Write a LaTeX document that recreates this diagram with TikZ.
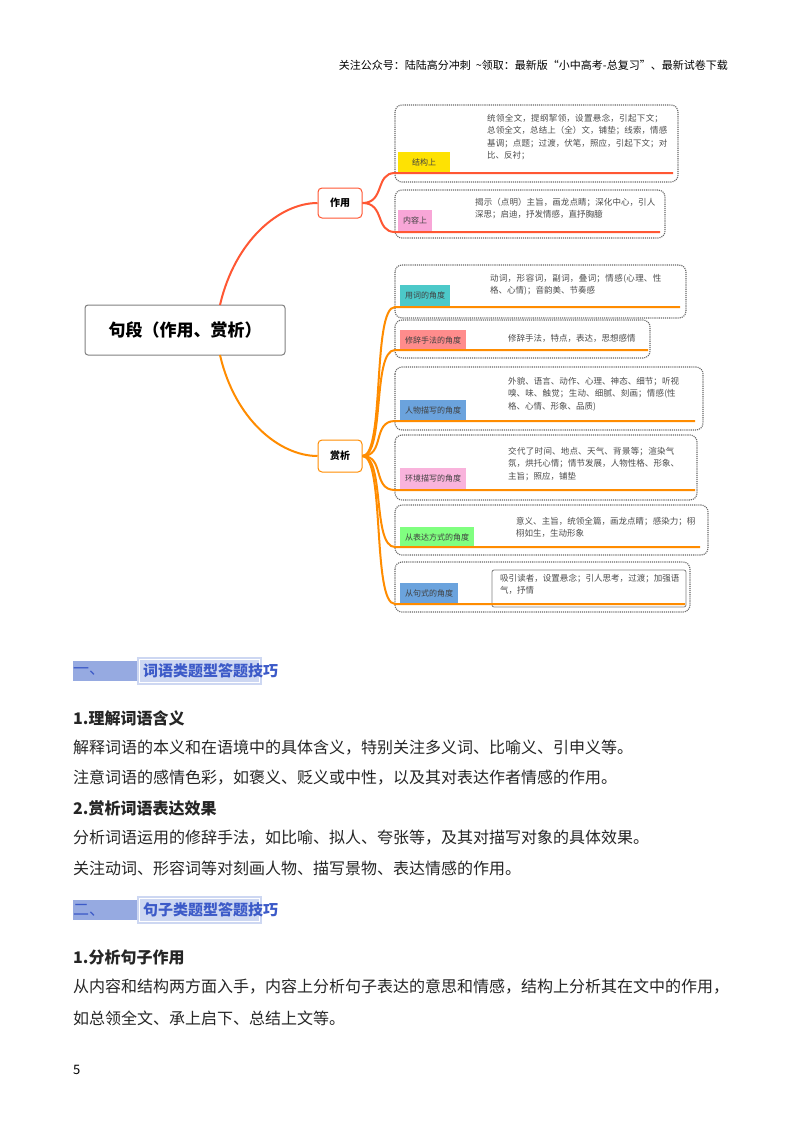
\documentclass[tikz,border=0pt]{standalone}
\usepackage{fontspec}
\setmainfont{Noto Sans CJK SC}
\XeTeXlinebreaklocale "zh"
\XeTeXlinebreakskip=0pt plus 1pt
\definecolor{hfill}{RGB}{150,170,225}
\definecolor{bfill}{RGB}{205,215,242}
\definecolor{htext}{RGB}{60,90,200}
\begin{document}
\begin{tikzpicture}[x=1pt,y=-1pt,
  fs/.style={font=\fontsize{#1}{#1}\selectfont},
  dbox/.style={draw=gray!80!black,densely dotted,line width=1.1pt,rounded corners=7pt},
  lab/.style={anchor=north west,inner xsep=5pt,inner ysep=2pt,fs=8,text=black!75,minimum height=21pt},
  desc/.style={anchor=north west,inner sep=0pt,font=\fontsize{8.5}{12.5}\selectfont,text=black!70,align=left,text width=#1},
  red/.style={draw=red!65!orange!80,line width=2pt},
  org/.style={draw=orange!90!yellow,line width=2pt},
  body/.style={anchor=west,inner sep=0pt,fs=16,text=black!85},
  head/.style={anchor=west,inner sep=0pt,font=\bfseries\fontsize{16}{16}\selectfont,text=black!85}]
\useasboundingbox (0,0) rectangle (800,1132);
\fill[white] (0,0) rectangle (800,1132);
\node[anchor=east,inner sep=0pt,fs=11] (hdr) at (728,65) {关注公众号：陆陆高分冲刺\ \ \textasciitilde 领取：最新版“小中高考-总复习”、最新试卷下载};
% central
\node[draw=gray,line width=1pt,rounded corners=3pt,minimum width=200pt,minimum height=50pt,font=\bfseries\fontsize{17}{17}\selectfont] (c) at (185,330) {句段（作用、赏析）};
\node[draw=red!65!orange!80,line width=1pt,rounded corners=4pt,minimum width=44pt,minimum height=30pt,font=\bfseries\fontsize{10}{10}\selectfont] (zy) at (340,203) {作用};
\node[draw=orange!90!yellow,line width=1pt,rounded corners=4pt,minimum width=44pt,minimum height=32pt,font=\bfseries\fontsize{10}{10}\selectfont] (sx) at (340,456) {赏析};
\draw[red] (220,305) .. controls (235,240) and (280,203) .. (zy.west);
\draw[org] (220,355) .. controls (235,420) and (280,456) .. (sx.west);
% 作用 items
\draw[dbox] (395,105) rectangle (678,182);
\node[lab,fill=yellow!85!orange,minimum width=52pt] (l1) at (398,152) {结构上};
\node[desc=182pt] (d1) at (487,114) {统领全文，提纲挈领，设置悬念，引起下文；总领全文，总结上（全）文，铺垫；线索，情感基调；点题；过渡，伏笔，照应，引起下文；对比、反衬；};
\draw[dbox] (395,190) rectangle (665,238);
\node[lab,fill=magenta!35] (l2) at (398,210) {内容上};
\node[desc=182pt] (d2) at (475,198) {揭示（点明）主旨，画龙点睛；深化中心，引人深思；启迪，抒发情感，直抒胸臆};
\draw[red] (zy.east) .. controls (385,203) and (375,173) .. (395,173) -- (673,173);
\draw[red] (zy.east) .. controls (385,203) and (375,232) .. (395,232) -- (660,232);
% 赏析 items
\foreach \ya/\yb/\xr/\ly/\lc/\lt/\ul/\ulx/\dx/\dy/\dw/\dt in {
 265/318/686/285/teal!60!cyan!70/用词的角度/307/680/490/274/180/{动词，形容词，副词，叠词；情感(心理、性格、心情)；音韵美、节奏感},
 320/358/650/330/red!45/修辞手法的角度/350/648/508/334/140/{修辞手法，特点，表达，思想感情},
 367/430/703/400/cyan!60!blue!60/人物描写的角度/421/695/508/377/172/{外貌、语言、动作、心理、神态、细节；听视嗅、味、触觉；生动、细腻、刻画；情感(性格、心情、形象、品质)},
 435/500/697/468/magenta!30/环境描写的角度/490/695/508/447/172/{交代了时间、地点、天气、背景等；渲染气氛，烘托心情；情节发展，人物性格、形象、主旨；照应，铺垫},
 505/555/708/527/green!50/从表达方式的角度/547/700/516/517/180/{意义、主旨，统领全篇，画龙点睛；感染力；栩栩如生，生动形象}}{
 \draw[dbox] (395,\ya) rectangle (\xr,\yb);
 \node[lab,fill=\lc] at (400,\ly) {\lt};
 \node[desc=\dw pt] at (\dx,\dy) {\dt};
 \draw[org] (sx.east) .. controls (385,456) and (372,\ul) .. (395,\ul) -- (\ulx,\ul);
}
\draw[dbox] (395,562) rectangle (690,612);
\node[lab,fill=cyan!60!blue!60] (l6) at (400,583) {从句式的角度};
\draw[gray,line width=0.8pt,rounded corners=2pt] (492,570) rectangle (686,607);
\node[desc=180pt] (d6) at (500,574) {吸引读者，设置悬念；引人思考，过渡；加强语气，抒情};
\draw[org] (sx.east) .. controls (385,456) and (372,604) .. (395,604) -- (685,604);
% section 1
\fill[hfill] (73,661) rectangle (137,681);
\node[anchor=west,inner sep=0pt,fs=16,text=htext] (s1a) at (73,671) {一、};
\fill[bfill] (137,657) rectangle (262,685);
\draw[white,line width=1.5pt] (139.5,659.5) rectangle (259.5,682.5);
\node[anchor=west,inner sep=0pt,font=\bfseries\fontsize{15}{15}\selectfont,text=htext] (s1) at (143,671) {词语类题型答题技巧};
\node[head] (h1) at (73,718) {1.理解词语含义};
\node[body] (b1) at (73,748) {解释词语的本义和在语境中的具体含义，特别关注多义词、比喻义、引申义等。};
\node[body] (b2) at (73,778) {注意词语的感情色彩，如褒义、贬义或中性，以及其对表达作者情感的作用。};
\node[head] (h2) at (73,808) {2.赏析词语表达效果};
\node[body] (b3) at (73,838) {分析词语运用的修辞手法，如比喻、拟人、夸张等，及其对描写对象的具体效果。};
\node[body] (b4) at (73,868) {关注动词、形容词等对刻画人物、描写景物、表达情感的作用。};
% section 2
\fill[hfill] (73,900) rectangle (137,920);
\node[anchor=west,inner sep=0pt,fs=16,text=htext] (s2a) at (73,910) {二、};
\fill[bfill] (137,896) rectangle (262,924);
\draw[white,line width=1.5pt] (139.5,898.5) rectangle (259.5,921.5);
\node[anchor=west,inner sep=0pt,font=\bfseries\fontsize{15}{15}\selectfont,text=htext] (s2) at (143,910) {句子类题型答题技巧};
\node[head] (h3) at (73,957) {1.分析句子作用};
\node[body] (b5) at (73,987) {从内容和结构两方面入手，内容上分析句子表达的意思和情感，结构上分析其在文中的作用，};
\node[body] (b6) at (73,1018) {如总领全文、承上启下、总结上文等。};
\node[anchor=west,inner sep=0pt,fs=13] (pg) at (73,1070) {5};
\end{tikzpicture}
\end{document}
